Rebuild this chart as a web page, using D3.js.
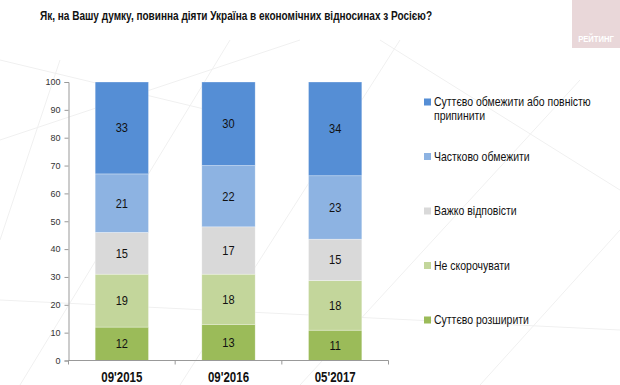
<!DOCTYPE html>
<html>
<head>
<meta charset="utf-8">
<script src="https://cdn.jsdelivr.net/npm/d3@7"></script>
<style>
body { margin: 0; background: #fff; }
svg { font-family: "Liberation Sans", Arial, sans-serif; }
</style>
</head>
<body>
<svg id="chart"></svg>
<script>
var width = 620,
height = 385;

// survey waves
const waves = ["09'2015", "09'2016", "05'2017"];

// answers, bottom to top of each bar
const answers = ["Суттєво розширити", "Не скорочувати", "Важко відповісти", "Частково обмежити", "Суттєво обмежити або повністю припинити"];
const colorsList = ["#9bbb59", "#c3d69b", "#d9d9d9", "#8db3e2", "#558ed5"];

// values per answer, one per wave
const expand = [12, 13, 11];
const keep = [19, 18, 18];
const hard = [15, 17, 15];
const partly = [21, 22, 23];
const restrict = [33, 30, 34];

const yTicks = [0, 10, 20, 30, 40, 50, 60, 70, 80, 90, 100];

const series = [expand, keep, hard, partly, restrict];

// rows for d3.stack
var rows = waves.map((w, i) => {
    var r = { wave: w };
    answers.forEach((a, j) => { r[a] = series[j][i]; });
    return r;
});

var stacked = d3.stack()
    .keys(answers)
    .offset(d3.stackOffsetExpand)(rows);

var colors = d3.scaleOrdinal().domain(answers).range(colorsList);

const svg = d3.select("#chart")
    .attr("width", width)
    .attr("height", height);

// the source uses a condensed font, squeeze text horizontally
function narrow(x, y, k) {
    return "translate(" + x + "," + y + ") scale(" + k + ",1)";
}

// faint decorative background lines
var bgLines = [[0, 140, 300, 40], [20, 385, 230, 40], [180, 385, 400, 40], [0, 300, 620, 330],
    [0, 60, 250, 120], [380, 40, 620, 190], [300, 385, 580, 80], [480, 385, 620, 230], [0, 240, 60, 60]];
svg.append("g").selectAll("line")
    .data(bgLines)
    .enter().append("line")
    .attr("x1", d => d[0]).attr("y1", d => d[1])
    .attr("x2", d => d[2]).attr("y2", d => d[3])
    .attr("stroke", "#f0f0f0")
    .attr("stroke-width", 1);

// logo
svg.append("rect")
    .attr("x", 572).attr("y", 0)
    .attr("width", 48).attr("height", 48)
    .attr("fill", "#e9d7d9");
svg.append("text")
    .attr("transform", narrow(596, 42, 0.85))
    .attr("text-anchor", "middle")
    .attr("fill", "#fff")
    .attr("font-size", 9)
    .attr("font-weight", "bold")
    .text("РЕЙТИНГ");

// title
svg.append("text")
    .attr("x", 40).attr("y", 20)
    .attr("font-size", 13)
    .attr("font-weight", "bold")
    .attr("fill", "#111")
    .attr("textLength", 392)
    .attr("lengthAdjust", "spacingAndGlyphs")
    .text("Як, на Вашу думку, повинна діяти Україна в економічних відносинах з Росією?");

var x = d3.scaleBand()
    .domain(waves)
    .range([68.5, 388.5])
    .paddingInner(0.5)
    .paddingOuter(0.25);

var y = d3.scaleLinear()
    .domain([0, 100])
    .range([360.5, 82]);

// bars
var layer = svg.append("g").selectAll("g")
    .data(stacked)
    .enter().append("g")
    .attr("fill", d => colors(d.key));

layer.selectAll("rect")
    .data(d => d)
    .enter().append("rect")
    .attr("x", d => x(d.data.wave))
    .attr("width", x.bandwidth())
    .attr("y", d => y(d[1] * 100))
    .attr("height", d => y(d[0] * 100) - y(d[1] * 100))
    .attr("stroke", "#fff")
    .attr("stroke-opacity", 0.5)
    .attr("stroke-width", 0.6);

// segment labels
layer.selectAll("text")
    .data(d => d.map(p => ({ p: p, key: d.key })))
    .enter().append("text")
    .attr("transform", d => narrow(x(d.p.data.wave) + x.bandwidth() / 2, y((d.p[0] + d.p[1]) * 50) + 4.5, 0.85))
    .attr("text-anchor", "middle")
    .attr("font-size", 13)
    .attr("fill", "#111")
    .text(d => d.p.data[d.key]);

// y axis
var yAxis = svg.append("g")
    .attr("transform", "translate(68.5,0)")
    .call(d3.axisLeft(y).tickValues(yTicks).tickSize(4).tickPadding(4));
yAxis.selectAll("text").attr("font-size", 9).attr("fill", "#333").attr("font-family", "Liberation Sans, Arial, sans-serif");
yAxis.selectAll("line, path").attr("stroke", "#999");

// x axis with ticks between categories
var xAxis = svg.append("g")
    .attr("transform", "translate(0,360.5)");
xAxis.append("line")
    .attr("x1", 68.5).attr("x2", 388.5)
    .attr("stroke", "#999");
var bounds = d3.range(waves.length + 1).map(i => 68.5 + i * (320 / waves.length));
xAxis.selectAll(".bt")
    .data(bounds)
    .enter().append("line")
    .attr("x1", d => d).attr("x2", d => d)
    .attr("y1", 0).attr("y2", 4)
    .attr("stroke", "#999");
xAxis.selectAll("text")
    .data(waves)
    .enter().append("text")
    .attr("transform", d => narrow(x(d) + x.bandwidth() / 2, 21, 0.82))
    .attr("text-anchor", "middle")
    .attr("font-size", 14)
    .attr("font-weight", "bold")
    .attr("fill", "#111")
    .text(d => d);

// legend, top to bottom
var legendItems = answers.slice().reverse();
var legendLines = {
    "Суттєво обмежити або повністю припинити": ["Суттєво обмежити або повністю", "припинити"]
};
var legend = svg.append("g").selectAll("g")
    .data(legendItems)
    .enter().append("g")
    .attr("transform", (d, i) => "translate(424," + (106 + i * 54.5) + ")");
legend.append("rect")
    .attr("x", 0).attr("y", -7.5)
    .attr("width", 7).attr("height", 7)
    .attr("fill", d => colors(d));
legend.append("text")
    .attr("transform", narrow(10, 0, 0.84))
    .attr("font-size", 12.5)
    .attr("fill", "#111")
    .selectAll("tspan")
    .data(d => legendLines[d] || [d])
    .enter().append("tspan")
    .attr("x", 0)
    .attr("dy", (d, i) => i === 0 ? 0 : 14.5)
    .text(d => d);
</script>
</body>
</html>
